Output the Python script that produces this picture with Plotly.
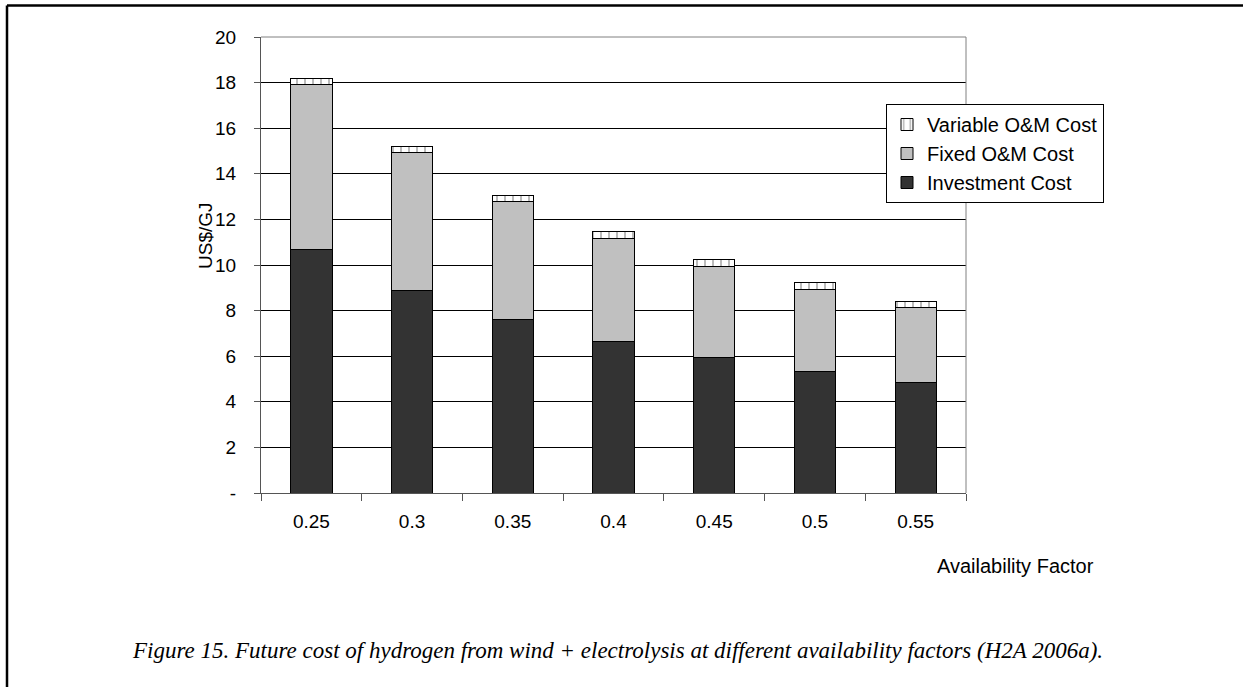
import plotly.graph_objects as go

categories = ["0.25", "0.3", "0.35", "0.4", "0.45", "0.5", "0.55"]
investment = [10.66, 8.90, 7.63, 6.66, 5.93, 5.34, 4.85]
fixed_om = [7.26, 6.03, 5.15, 4.51, 4.01, 3.59, 3.28]
variable_om = [0.25, 0.27, 0.26, 0.30, 0.29, 0.29, 0.29]
y_tickvals = [0, 2, 4, 6, 8, 10, 12, 14, 16, 18, 20]
y_ticktext = ["-", "2", "4", "6", "8", "10", "12", "14", "16", "18", "20"]

W, H = 1243, 687
L, R, T, B = 261, 966, 37, 493

def px(x):
    return (x - L) / (R - L)

def py(y):
    return (B - y) / (B - T)

fig = go.Figure()
fig.add_trace(go.Bar(x=categories, y=investment, name="Investment Cost",
                     marker=dict(color="#333333", line=dict(color="#000000", width=1))))
fig.add_trace(go.Bar(x=categories, y=fixed_om, name="Fixed O&M Cost",
                     marker=dict(color="#C0C0C0", line=dict(color="#000000", width=1))))
fig.add_trace(go.Bar(x=categories, y=variable_om, name="Variable O&M Cost",
                     marker=dict(color="#FFFFFF", line=dict(color="#000000", width=1),
                                 pattern=dict(shape="|", size=8, solidity=0.2,
                                              fgcolor="#555555", bgcolor="#FFFFFF"))))

font_family = "Liberation Sans, Arial, sans-serif"

fig.update_layout(
    width=W, height=H,
    margin=dict(l=L, r=W - R, t=T, b=H - B),
    barmode="stack",
    bargap=0.59,
    plot_bgcolor="#FFFFFF",
    paper_bgcolor="#FFFFFF",
    font=dict(family=font_family, size=19, color="#000000"),
    showlegend=True,
    legend=dict(x=px(886), y=py(104), xanchor="left", yanchor="top",
                traceorder="reversed", bgcolor="#FFFFFF",
                bordercolor="#000000", borderwidth=1,
                font=dict(size=20, family=font_family),
                itemwidth=30, tracegroupgap=0),
    xaxis=dict(type="category", showgrid=False, showline=True, linecolor="#555555",
               linewidth=1, ticks="outside", tickson="boundaries", ticklen=7,
               tickcolor="#555555", mirror=False, ticklabelstandoff=11,
               tickfont=dict(size=19)),
    yaxis=dict(range=[0, 20], tickvals=y_tickvals, ticktext=y_ticktext,
               showgrid=True, gridcolor="#000000", gridwidth=1,
               showline=True, linecolor="#555555", linewidth=1,
               ticks="outside", ticklen=6, tickcolor="#555555",
               ticklabelstandoff=14, zeroline=False, tickfont=dict(size=19)),
)

# plot area border (top and right, gray)
fig.add_shape(type="line", xref="paper", yref="paper", x0=0, x1=1, y0=1, y1=1,
              line=dict(color="#808080", width=1))
fig.add_shape(type="line", xref="paper", yref="paper", x0=1, x1=1, y0=0, y1=1,
              line=dict(color="#808080", width=1))

# outer frame (top and left)
fig.add_shape(type="line", xref="paper", yref="paper", x0=px(7), x1=px(1250),
              y0=py(5.5), y1=py(5.5), line=dict(color="#000000", width=2.5))
fig.add_shape(type="line", xref="paper", yref="paper", x0=px(7), x1=px(7),
              y0=py(5.5), y1=py(700), line=dict(color="#000000", width=2.5))

fig.add_annotation(x=px(1015), y=py(566), xref="paper", yref="paper",
                   xanchor="center", yanchor="middle",
                   text="Availability Factor", showarrow=False,
                   font=dict(size=20, family=font_family))
fig.add_annotation(x=px(205), y=py(236), xref="paper", yref="paper",
                   xanchor="center", yanchor="middle",
                   text="US$/GJ", showarrow=False, textangle=-90,
                   font=dict(size=19, family=font_family))
fig.add_annotation(x=px(130), y=py(650), xref="paper", yref="paper",
                   xanchor="left", yanchor="middle",
                   text="<i>Figure 15. Future cost of hydrogen from wind + electrolysis at different availability factors (H2A 2006a).</i>",
                   showarrow=False,
                   font=dict(size=23, family="Liberation Serif, Times New Roman, serif"))

fig.write_html("out.html")
